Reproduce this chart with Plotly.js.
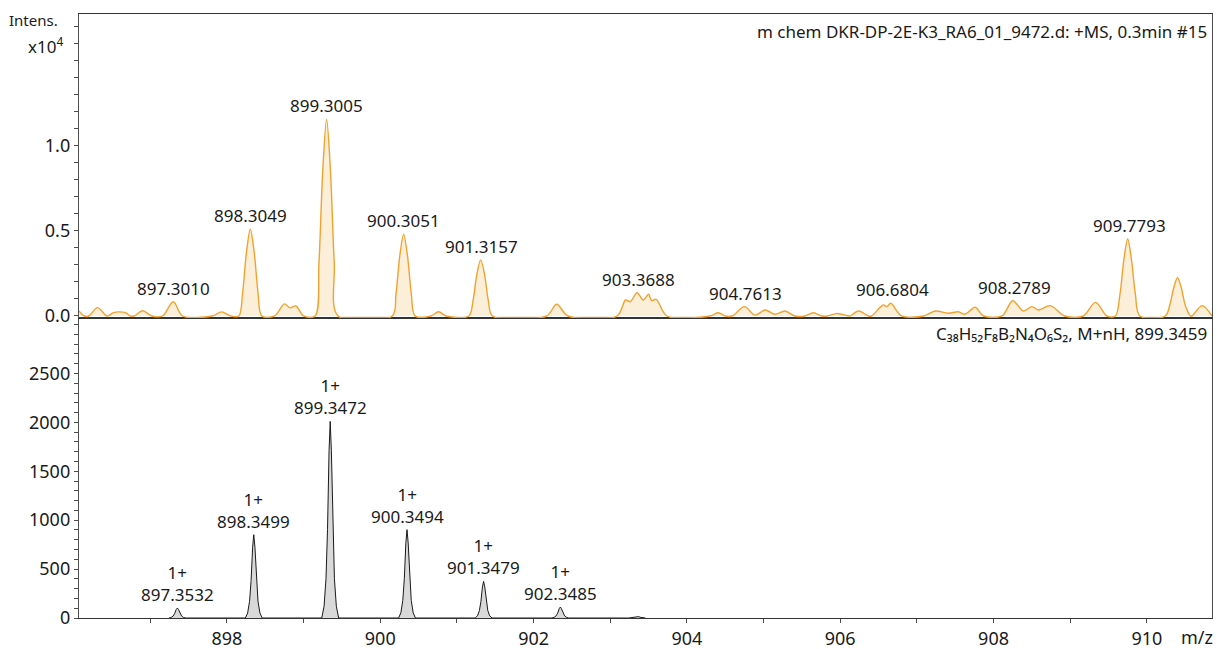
<!DOCTYPE html>
<html><head><meta charset="utf-8">
<script src="https://cdn.plot.ly/plotly-3.0.1.min.js"></script>
<style>html,body{margin:0;padding:0;background:#fff}#chart{width:1217px;height:649px}</style>
</head><body><div id="chart"></div>
<script>
// ---- Measured profile (top panel, intensity in units of 10^4) ----
const measMz = [
 896.07,896.14,896.20,896.31,896.44,896.52,896.60,896.68,896.74,896.79,896.90,897.02,
 897.16,897.30,897.42,897.81,897.93,898.05,
 898.155,898.205,898.255,898.305,898.355,898.405,898.455,
 898.62,898.75,898.82,898.90,899.00,
 899.15,899.20,899.25,899.30,899.35,899.40,899.45,
 900.155,900.205,900.255,900.305,900.355,900.405,900.455,
 900.66,900.76,900.86,
 901.155,901.21,901.26,901.31,901.36,901.41,901.465,
 902.17,902.30,902.45,
 903.09,903.20,903.26,903.35,903.43,903.50,903.54,903.60,903.74,
 904.30,904.41,904.50,
 904.59,904.75,904.89,905.02,905.15,905.28,905.41,
 905.54,905.65,905.76,905.83,905.96,906.11,
 906.13,906.24,906.37,
 906.41,906.56,906.61,906.66,906.80,
 907.09,907.24,907.41,907.54,907.63,907.76,907.87,
 908.11,908.25,908.39,908.50,908.59,908.74,908.93,
 909.17,909.33,909.48,
 909.59,909.65,909.70,909.75,909.80,909.85,909.91,
 910.24,910.30,910.35,910.40,910.45,910.50,910.57,
 910.59,910.72,910.85
];
const measInt = [
 0.030,0,0,0.049,0,0.020,0.024,0.018,0,0,0.031,0,
 0,0.084,0,0,0.024,0,
 0,0.138,0.377,0.510,0.377,0.138,0,
 0,0.071,0.048,0.059,0,
 0,0.310,0.856,1.157,0.856,0.310,0,
 0,0.130,0.355,0.480,0.355,0.130,0,
 0,0.025,0,
 0,0.090,0.245,0.330,0.245,0.090,0,
 0,0.069,0,
 0,0.094,0.084,0.137,0.094,0.128,0.090,0.098,0,
 0,0.019,0,
 0,0.055,0.005,0.035,0.010,0.029,0,
 0,0.019,0,0,0.015,0,
 0,0.029,0,
 0,0.065,0.055,0.075,0,
 0,0.029,0.016,0.025,0.010,0.051,0,
 0,0.090,0.029,0.055,0.035,0.061,0,
 0,0.080,0,
 0,0.130,0.330,0.453,0.330,0.130,0,
 0,0.065,0.165,0.225,0.165,0.065,0,
 0,0.061,0
];

// ---- Simulated isotope pattern (bottom panel) ----
const simMz = [
 897.243,897.273,897.298,897.318,897.338,897.353,897.368,897.388,897.408,897.433,897.463,
 898.240,898.270,898.295,898.315,898.335,898.350,898.365,898.385,898.405,898.430,898.460,
 899.237,899.267,899.292,899.312,899.332,899.347,899.362,899.382,899.402,899.427,899.457,
 900.239,900.269,900.294,900.314,900.334,900.349,900.364,900.384,900.404,900.429,900.459,
 901.238,901.268,901.293,901.313,901.333,901.348,901.363,901.383,901.403,901.428,901.458,
 902.239,902.269,902.294,902.314,902.334,902.349,902.364,902.384,902.404,902.429,902.459,
 903.240,903.300,903.330,903.350,903.370,903.400,903.460
];
const simInt = [
 0,6,20,46,87,102,87,46,20,6,0,
 0,51,170,383,724,852,724,383,170,51,0,
 0,121,402,905,1709,2010,1709,905,402,121,0,
 0,54,181,406,768,903,768,406,181,54,0,
 0,22,75,168,318,374,318,168,75,22,0,
 0,7,22,50,95,112,95,50,22,7,0,
 0,6,14,18,14,6,0
];

// ---- Peak labels ----
const measLabels = ['897.3010','898.3049','899.3005','900.3051','901.3157','903.3688','904.7613','906.6804','908.2789','909.7793'];
const measLabelHeights = [0.084,0.510,1.157,0.480,0.330,0.137,0.055,0.075,0.090,0.453];
const simLabels = ['897.3532','898.3499','899.3472','900.3494','901.3479','902.3485'];
const simLabelHeights = [102,852,2010,903,374,112];
const simCharge = '1+';

// ---- Tick labels ----
const xTickVals = [897,898,899,900,901,902,903,904,905,906,907,908,909,910];
const xTickText = [' ','898',' ','900',' ','902',' ','904',' ','906',' ','908',' ','910'];
const yTopTickVals = [0,0.1,0.2,0.3,0.4,0.5,0.6,0.7,0.8,0.9,1.0,1.1,1.2,1.3,1.4,1.5,1.6,1.7];
const yTopTickText = ['0.0',' ',' ',' ',' ','0.5',' ',' ',' ',' ','1.0',' ',' ',' ',' ',' ',' ',' '];
const yBotTickVals = [0,100,200,300,400,500,600,700,800,900,1000,1100,1200,1300,1400,1500,1600,1700,1800,1900,2000,2100,2200,2300,2400,2500,2600,2700,2800,2900,3000];
const yBotTickText = ['0',' ',' ',' ',' ','500',' ',' ',' ',' ','1000',' ',' ',' ',' ','1500',' ',' ',' ',' ','2000',' ',' ',' ',' ','2500',' ',' ',' ',' ',' '];

const FONT = 'Noto Sans, Open Sans, DejaVu Sans, sans-serif';
const TXT = '#1a1a1a';
const AX = '#4d4d4d';
const splitY = 300/604;

const traces = [
 {x: measMz, y: measInt, xaxis:'x2', yaxis:'y2', type:'scatter', mode:'lines',
  line:{color:'#f2a22c', width:1.4, shape:'spline', smoothing:0.9},
  fill:'tozeroy', fillcolor:'rgba(250,226,185,0.55)', hoverinfo:'skip'},
 {x: simMz, y: simInt, xaxis:'x', yaxis:'y', type:'scatter', mode:'lines',
  line:{color:'#1a1a1a', width:1}, fill:'tozeroy', fillcolor:'#d9d9d9', hoverinfo:'skip'}
];

const annotations = [];
measLabels.forEach((t,i)=>{
  annotations.push({xref:'x2', yref:'y2', x: parseFloat(t), y: measLabelHeights[i],
    text:t, showarrow:false, xanchor:'center', yanchor:'bottom',
    font:{family:FONT, size:17, color:TXT}});
});
simLabels.forEach((t,i)=>{
  annotations.push({xref:'x', yref:'y', x: parseFloat(t), y: simLabelHeights[i],
    text: simCharge + '<br>' + t, showarrow:false, xanchor:'center', yanchor:'bottom',
    font:{family:FONT, size:17, color:TXT}});
});
annotations.push(
 {xref:'paper', yref:'paper', x:1, y:1, xanchor:'right', yanchor:'top', xshift:-3, yshift:-4,
  text:'m chem DKR-DP-2E-K3_RA6_01_9472.d: +MS, 0.3min #15', showarrow:false,
  font:{family:FONT, size:17, color:TXT}},
 {xref:'paper', yref:'paper', x:1, y:splitY, xanchor:'right', yanchor:'top', xshift:-3, yshift:-2,
  text:'C₃₈H₅₂F₈B₂N₄O₆S₂, M+nH, 899.3459', showarrow:false,
  font:{family:FONT, size:17, color:TXT}},
 {xref:'paper', yref:'paper', x:0, y:1, xanchor:'left', yanchor:'middle', xshift:-72, yshift:-6,
  text:'Intens.', showarrow:false, font:{family:FONT, size:15, color:TXT}},
 {xref:'paper', yref:'paper', x:0, y:1, xanchor:'right', yanchor:'middle', xshift:-14, yshift:-31,
  text:'x10<sup>4</sup>', showarrow:false, font:{family:FONT, size:17, color:TXT}},
 {xref:'paper', yref:'paper', x:1, y:0, xanchor:'right', yanchor:'top', xshift:3, yshift:-5,
  text:'m/z', showarrow:false, font:{family:FONT, size:18, color:TXT}}
);

const axBase = {showgrid:false, zeroline:false, showline:true, linecolor:AX, linewidth:1.2,
  ticks:'outside', ticklen:4, tickcolor:AX, tickwidth:1,
  tickfont:{family:FONT, size:18, color:TXT}, fixedrange:true};

const layout = {
  width:1217, height:649,
  margin:{l:79, r:5, t:14, b:31},
  paper_bgcolor:'#fff', plot_bgcolor:'#fff',
  showlegend:false, hovermode:false,
  xaxis: Object.assign({}, axBase, {domain:[0,1], anchor:'y', range:[896.07,910.85],
     tickmode:'array', tickvals:xTickVals, ticktext:xTickText, mirror:true, linecolor:'#333'}),
  yaxis: Object.assign({}, axBase, {domain:[0,splitY], anchor:'x', range:[0,3067],
     tickmode:'array', tickvals:yBotTickVals, ticktext:yBotTickText, mirror:true}),
  xaxis2: Object.assign({}, axBase, {domain:[0,1], anchor:'y2', matches:'x', range:[896.07,910.85],
     showticklabels:false, ticks:'', mirror:true, linecolor:'#333'}),
  yaxis2: Object.assign({}, axBase, {domain:[splitY,1], anchor:'x2', range:[-0.0118,1.776],
     tickmode:'array', tickvals:yTopTickVals, ticktext:yTopTickText, mirror:true}),
  annotations: annotations
};

Plotly.newPlot('chart', traces, layout, {staticPlot:true, displayModeBar:false});
</script></body></html>
